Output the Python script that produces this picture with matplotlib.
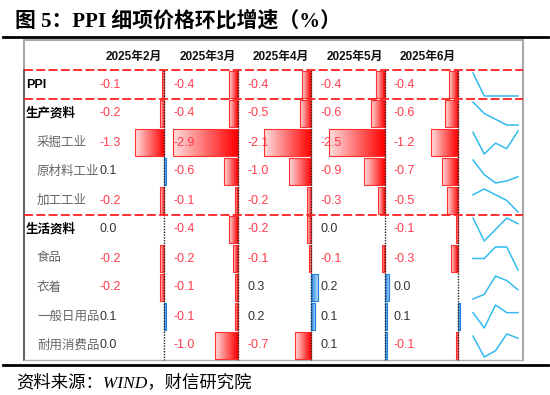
import numpy as np
import matplotlib.pyplot as plt
from matplotlib.colors import LinearSegmentedColormap

plt.rcParams["font.family"] = ["Liberation Sans", "Noto Sans CJK SC", "DejaVu Sans"]

months = ["2025年2月", "2025年3月", "2025年4月", "2025年5月", "2025年6月"]
items = ["PPI", "生产资料", "采掘工业", "原材料工业", "加工工业",
         "生活资料", "食品", "衣着", "一般日用品", "耐用消费品"]
is_main = [True, True, False, False, False, True, False, False, False, False]
# rows = items, columns = months
values = [
    [-0.1, -0.4, -0.4, -0.4, -0.4],
    [-0.2, -0.4, -0.5, -0.6, -0.6],
    [-1.3, -2.9, -2.1, -2.5, -1.2],
    [0.1, -0.6, -1.0, -0.9, -0.7],
    [-0.2, -0.1, -0.2, -0.3, -0.5],
    [0.0, -0.4, -0.2, 0.0, -0.1],
    [-0.2, -0.2, -0.1, -0.1, -0.3],
    [-0.2, -0.1, 0.3, 0.2, 0.0],
    [0.1, -0.1, 0.2, 0.1, 0.1],
    [0.0, -1.0, -0.7, 0.1, -0.1],
]

W, H = 550, 395
fig = plt.figure(figsize=(W / 100, H / 100), dpi=100)
ax = fig.add_axes([0, 0, 1, 1])
ax.set_xlim(0, W)
ax.set_ylim(H, 0)
ax.axis("off")
ax.set_autoscale_on(False)

# layout in pixels
left, right = 24, 523
top, head_bot = 40, 70
row_h = 29
bottom = head_bot + row_h * len(items)
axis_x = [164 + 73.5 * i for i in range(5)]
scale = 22.4  # px per percentage point

red_cmap = LinearSegmentedColormap.from_list("r", ["#ffdede", "#ff0000"])
blue_cmap = LinearSegmentedColormap.from_list("b", ["#1e80e0", "#b8dcf8"])
grad = np.linspace(0, 1, 64).reshape(1, -1)


def data_bar(x0, x1, y0, y1, cmap, edge):
    ax.imshow(grad, cmap=cmap, extent=(x0, x1, y1, y0), aspect="auto",
              interpolation="bilinear", zorder=2)
    ax.add_patch(plt.Rectangle((x0, y0), x1 - x0, y1 - y0, fill=False,
                               ec=edge, lw=0.8, zorder=3))


# title and rules
ax.text(15, 21, "图 5：PPI 细项价格环比增速（%）", fontsize=15, fontweight="bold",
        family=["Liberation Serif", "Noto Sans CJK SC"], va="center", ha="left")
ax.plot([3, 548], [37, 37], color="black", lw=2.0)
ax.plot([3, 548], [364.5, 364.5], color="black", lw=2.0)
ax.text(16, 383, "资料来源：WIND，财信研究院", fontsize=12.5, style="italic",
        family=["Liberation Serif", "Noto Sans CJK SC"], va="center", ha="left")

# table frame
ax.plot([left, left, right, right], [bottom, top, top, bottom], color="#a8a8a8", lw=1.5)
ax.plot([left, left], [head_bot, bottom], color="#555555", lw=1.2)
ax.plot([left, right], [bottom, bottom], color="#b0b0b0", lw=1.0)

# header
for j, m in enumerate(months):
    ax.text(axis_x[j] - 30, 57, m, fontsize=8.5, fontweight="bold",
            ha="center", va="center", color="#111111")

# rows
for i, name in enumerate(items):
    y0 = head_bot + i * row_h
    yc = y0 + row_h / 2
    if is_main[i]:
        ax.text(26, yc, name, fontsize=9, fontweight="bold", color="black",
                ha="left", va="center")
    else:
        ax.text(37, yc, name, fontsize=9, color="#666666", ha="left", va="center")
    for j, v in enumerate(values[i]):
        ax.text(axis_x[j] - 64, yc, f"{v:.1f}", fontsize=9,
                color="#ff3c4c" if v < 0 else "#333333", ha="left", va="center", zorder=4)
        if v < 0:
            data_bar(axis_x[j] + v * scale, axis_x[j], y0 + 1, y0 + row_h - 1,
                     red_cmap, "#ff3030")
        elif v > 0:
            data_bar(axis_x[j], axis_x[j] + v * scale, y0 + 1, y0 + row_h - 1,
                     blue_cmap, "#1e80e0")
    # sparkline
    vals = np.array(values[i])
    lo, hi = vals.min(), vals.max()
    sx = np.linspace(473, 518, len(vals))
    sy = y0 + row_h - 3 - (vals - lo) / (hi - lo) * (row_h - 6)
    ax.plot(sx, sy, color="#33bbee", lw=1.1, zorder=3)

# column separators
for x in axis_x:
    ax.plot([x, x], [head_bot, bottom], color="#222222", lw=1.0,
            ls=(0, (1, 1)), zorder=5)

# red dashed group lines
for r in [0, 1, 5]:
    y = head_bot + r * row_h
    ax.plot([left, right], [y, y], color="#ff2020", lw=1.3,
            ls=(0, (5, 1.8)), zorder=6)

fig.savefig("out.png", dpi=100)
